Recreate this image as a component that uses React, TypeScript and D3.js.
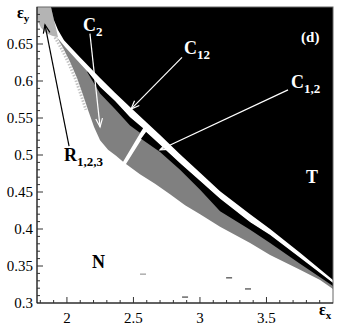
import React from 'react';
import * as d3 from 'd3';

type Pt = [number, number];

const W = 340;
const H = 328;
const margin = { top: 7, right: 7, bottom: 25, left: 37 };

const xTicks = [2, 2.5, 3, 3.5];
const yTicks = [0.3, 0.35, 0.4, 0.45, 0.5, 0.55, 0.6, 0.65];

// lower edge of the black T region (= top of the white C12 band)
const tEdge: Pt[] = [
  [1.880, 0.700], [1.903, 0.682], [1.933, 0.669], [1.978, 0.655], [2.098, 0.632],
  [2.249, 0.604], [2.361, 0.584], [2.474, 0.565], [2.587, 0.546], [2.700, 0.527],
  [2.850, 0.501], [3.001, 0.476], [3.151, 0.451], [3.377, 0.420], [3.527, 0.400],
  [3.752, 0.368], [4.000, 0.331],
];

// light grey R1,2,3 corner, top left
const rCorner: Pt[] = [
  [1.775, 0.700], [1.880, 0.700], [1.903, 0.682], [1.925, 0.666], [1.933, 0.659],
  [1.888, 0.661], [1.843, 0.665], [1.805, 0.672], [1.783, 0.680], [1.775, 0.685],
];

// left branch (before the cusp)
const c12LowLeft: Pt[] = [
  [1.925, 0.659], [1.986, 0.646], [2.061, 0.631], [2.158, 0.612], [2.249, 0.592],
  [2.361, 0.573], [2.474, 0.551], [2.572, 0.536],
];
const stripLowLeft: Pt[] = [
  [2.150, 0.613], [2.249, 0.583], [2.361, 0.562], [2.474, 0.540], [2.549, 0.530],
];
const grayLowLeft: Pt[] = [
  [1.925, 0.659], [1.970, 0.645], [2.023, 0.626], [2.076, 0.604], [2.121, 0.581],
  [2.158, 0.561], [2.204, 0.538], [2.249, 0.520], [2.309, 0.507], [2.369, 0.499],
  [2.422, 0.491],
];

// right branch (after the cusp)
const c12LowRight: Pt[] = [
  [2.595, 0.531], [2.700, 0.514], [2.850, 0.489], [3.001, 0.465], [3.151, 0.441],
  [3.377, 0.409], [3.527, 0.392], [3.752, 0.361], [4.000, 0.327],
];
const stripLowRight: Pt[] = [
  [2.557, 0.522], [2.700, 0.504], [2.850, 0.480], [3.001, 0.453], [3.151, 0.424],
  [3.377, 0.399], [3.527, 0.381], [3.752, 0.353], [4.000, 0.323],
];
const grayLowRight: Pt[] = [
  [2.444, 0.488], [2.549, 0.474], [2.662, 0.461], [2.775, 0.447], [2.888, 0.432],
  [3.001, 0.420], [3.151, 0.403], [3.377, 0.381], [3.527, 0.365], [3.752, 0.345],
  [3.903, 0.331], [4.000, 0.319],
];

// little isolated marks in the N region
const dashes: Pt[] = [[2.572, 0.339], [3.219, 0.334], [3.361, 0.319], [2.888, 0.308]];
const dashColors = ['#999', '#444', '#444', '#444'];

// annotation arrows
const arrowFrom: Pt[] = [[2.865, 0.632], [3.662, 0.588], [2.173, 0.664], [2.016, 0.512]];
const arrowTo: Pt[] = [[2.482, 0.562], [2.700, 0.507], [2.249, 0.538], [1.835, 0.676]];
const arrowColors = ['#fff', '#fff', '#fff', '#000'];

// region labels
const labelMain = ['C', 'C', 'C', 'R', '(d)', 'T', 'N'];
const labelSub = ['12', '1,2', '2', '1,2,3', '', '', ''];
const labelAt: Pt[] = [
  [2.880, 0.636], [3.685, 0.591], [2.121, 0.668], [1.978, 0.492],
  [3.760, 0.653], [3.797, 0.462], [2.189, 0.347],
];
const labelColors = ['#fff', '#fff', '#fff', '#000', '#fff', '#fff', '#000'];

const serif = '"Liberation Serif", "Times New Roman", serif';

export default function App() {
  const x = d3.scaleLinear().domain([1.775, 4.0]).range([margin.left, W - margin.right]);
  const y = d3.scaleLinear().domain([0.3, 0.7]).range([H - margin.bottom, margin.top]);

  const line = d3.line<Pt>().x(d => x(d[0])).y(d => y(d[1]));
  const poly = (pts: Pt[]) => line(pts) + 'Z';

  const tPoly: Pt[] = [...tEdge, [4.0, 0.7]];
  const leftGray: Pt[] = [...grayLowLeft, ...c12LowLeft.slice().reverse()];
  const leftStrip: Pt[] = [
    ...c12LowLeft.filter(d => d[0] >= 2.15),
    ...stripLowLeft.slice().reverse(),
  ];
  const rightGray: Pt[] = [...grayLowRight, ...c12LowRight.slice().reverse()];
  const rightStrip: Pt[] = [...c12LowRight, ...stripLowRight.slice().reverse()];

  const xMinor = d3.range(18, 40).map(v => v / 10);
  const yMinor = d3.range(31, 70).map(v => v / 100);

  const x0 = margin.left, x1 = W - margin.right;
  const y0 = margin.top, y1 = H - margin.bottom;

  const arrowHead = (a: Pt, b: Pt) => {
    const ax = x(a[0]), ay = y(a[1]), bx = x(b[0]), by = y(b[1]);
    const ang = Math.atan2(by - ay, bx - ax);
    const L = 9, s = 0.38;
    return `M${bx - L * Math.cos(ang - s)},${by - L * Math.sin(ang - s)}L${bx},${by}` +
      `L${bx - L * Math.cos(ang + s)},${by - L * Math.sin(ang + s)}`;
  };

  return (
    <svg width={W} height={H} style={{ position: 'absolute', left: 0, top: 0, background: '#fff' }}
      fontFamily={serif}>
      <defs>
        <clipPath id="plot">
          <rect x={x0} y={y0} width={x1 - x0} height={y1 - y0} />
        </clipPath>
      </defs>

      <g clipPath="url(#plot)">
        <path d={poly(rCorner)} fill="#b4b4b4" />
        <path d={line(grayLowLeft.slice(0, 6)) || ''} fill="none" stroke="#c4c4c4"
          strokeWidth={3} strokeDasharray="1.5 1.5" transform="translate(-2,0)" />
        <path d={poly(leftGray)} fill="#808080" />
        <path d={poly(rightGray)} fill="#808080" />
        <path d={poly(leftStrip)} fill="#000" />
        <path d={poly(rightStrip)} fill="#000" />
        <path d={poly(tPoly)} fill="#000" />
        {dashes.map((d, i) => (
          <line key={i} x1={x(d[0]) - 3} x2={x(d[0]) + 3} y1={y(d[1])} y2={y(d[1])}
            stroke={dashColors[i]} strokeWidth={1.2} />
        ))}
      </g>

      {arrowFrom.map((a, i) => (
        <g key={i} stroke={arrowColors[i]} strokeWidth={1.2} fill="none">
          <line x1={x(a[0])} y1={y(a[1])} x2={x(arrowTo[i][0])} y2={y(arrowTo[i][1])} />
          <path d={arrowHead(a, arrowTo[i])} />
        </g>
      ))}

      {labelMain.map((m, i) => (
        <text key={i} x={x(labelAt[i][0])} y={y(labelAt[i][1])} fill={labelColors[i]}
          fontWeight="bold" fontSize={m.length > 1 ? 15 : 18}>
          {m}
          {labelSub[i] && <tspan fontSize={13} dy={5}>{labelSub[i]}</tspan>}
        </text>
      ))}

      {/* frame and ticks */}
      <rect x={x0} y={y0} width={x1 - x0} height={y1 - y0} fill="none" stroke="#666" strokeWidth={1} />
      <line x1={x0} x2={x1} y1={y1} y2={y1} stroke="#111" />
      <line x1={x0} x2={x0} y1={y0} y2={y1} stroke="#111" />
      {xMinor.map(v => (
        <line key={'xm' + v} x1={x(v)} x2={x(v)} y1={y1} y2={y1 - (xTicks.includes(v) ? 6 : 3)} stroke="#333" />
      ))}
      {yMinor.map(v => (
        <line key={'ym' + v} x1={x0} x2={x0 + (yTicks.some(t => Math.abs(t - v) < 1e-6) ? 6 : 3)}
          y1={y(v)} y2={y(v)} stroke="#333" />
      ))}
      {xTicks.map(v => (
        <text key={'xt' + v} x={x(v)} y={323} textAnchor="middle" fontSize={15}>{String(v)}</text>
      ))}
      {yTicks.map(v => (
        <text key={'yt' + v} x={33} y={y(v)} dy="0.35em" textAnchor="end" fontSize={15}>{String(v)}</text>
      ))}
      <text x={17} y={18} fontSize={16} fontWeight="bold">ε<tspan fontSize={11} dy={4}>y</tspan></text>
      <text x={319} y={315} fontSize={16} fontWeight="bold">ε<tspan fontSize={11} dy={4}>x</tspan></text>
    </svg>
  );
}
